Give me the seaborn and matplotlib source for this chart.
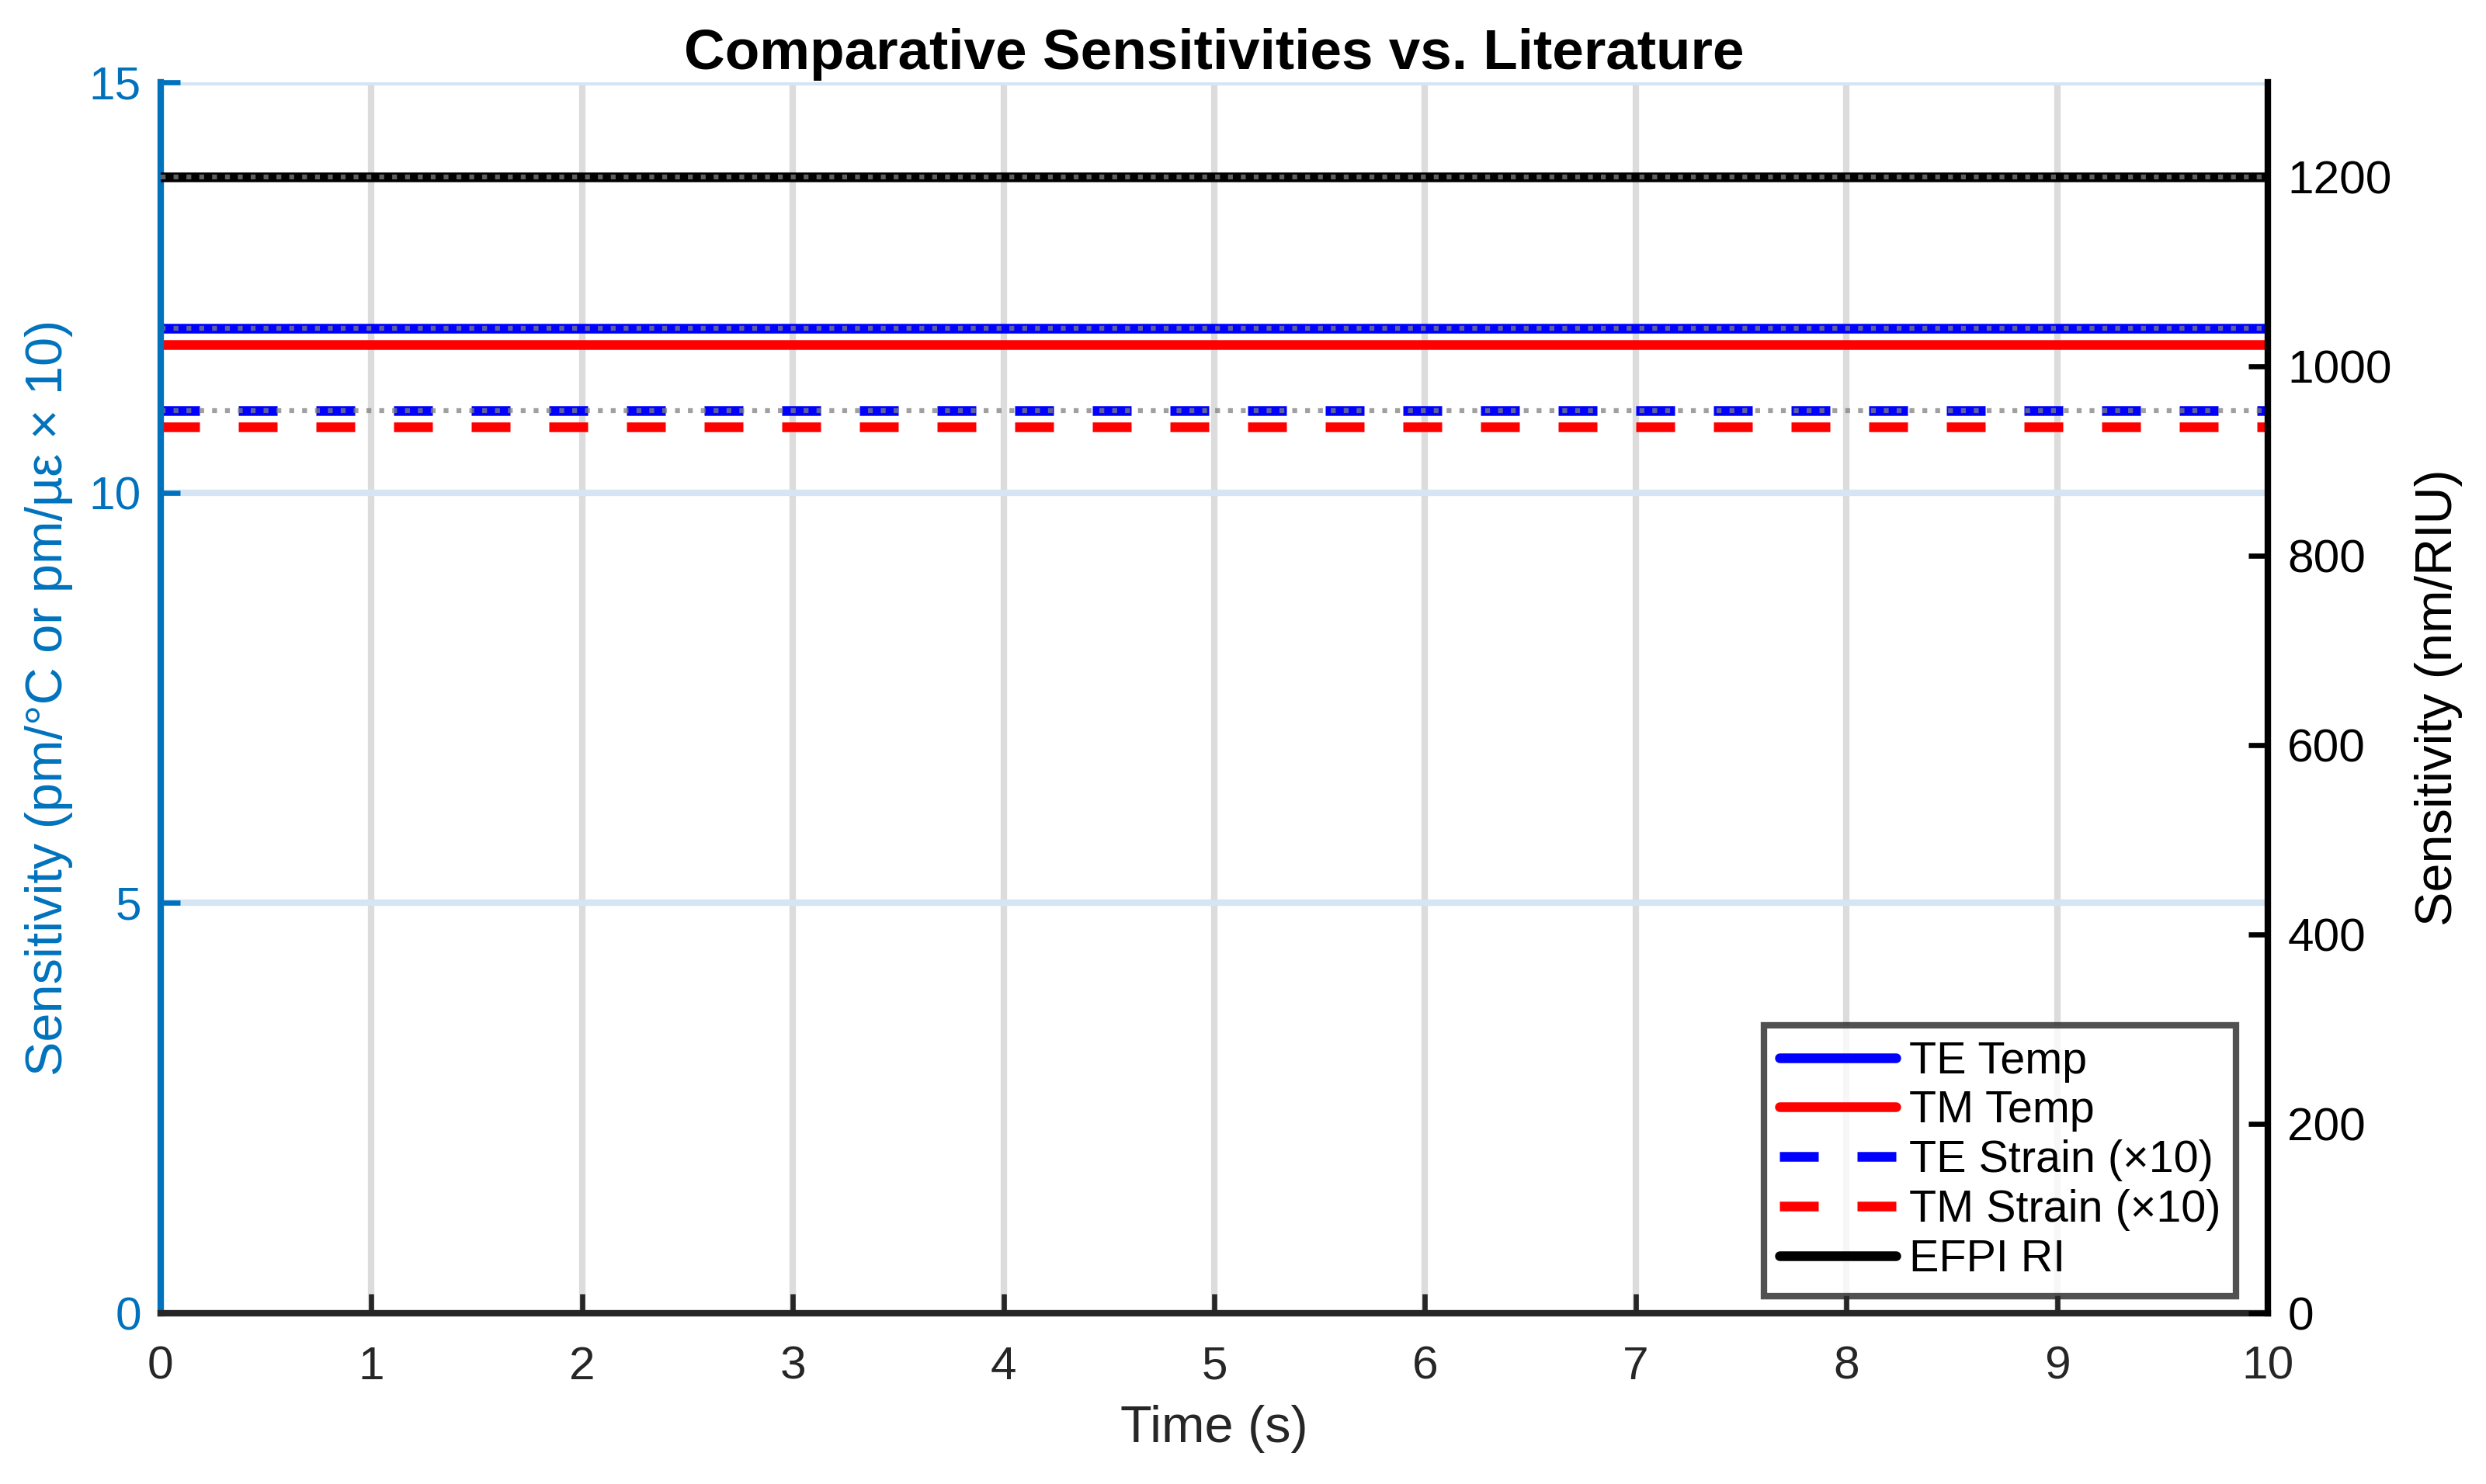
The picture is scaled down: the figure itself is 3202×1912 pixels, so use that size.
import numpy as np
import pandas as pd
import matplotlib.pyplot as plt
import seaborn as sns
from matplotlib.lines import Line2D

sns.set_theme(style='white')
plt.rcParams['font.family'] = ['Liberation Sans', 'DejaVu Sans']

# data
time_s = [0, 10]
te_temp = 12.0          # pm/°C
tm_temp = 11.8          # pm/°C
te_strain_x10 = 11.0    # pm/µε x 10
tm_strain_x10 = 10.8    # pm/µε x 10
efpi_ri = 1200          # nm/RIU
lit_temp = 12.0
lit_strain_x10 = 11.0
lit_ri = 1200

left_ticks = [0, 5, 10, 15]
right_ticks = [0, 200, 400, 600, 800, 1000, 1200]
x_ticks = list(range(0, 11))

blue_axis = '#0072BD'
lw = 3.0

fig = plt.figure(figsize=(3203 / 300, 1912 / 300), dpi=300)
ax = fig.add_axes([0.0646, 0.115, 0.912 - 0.0646, 0.9446 - 0.115])
ax2 = ax.twinx()

def const(v):
    return pd.DataFrame({'t': time_s, 'v': [v] * len(time_s)})

# left axis series
sns.lineplot(data=const(te_temp), x='t', y='v', ax=ax, color='#0000FF', lw=lw)
sns.lineplot(data=const(tm_temp), x='t', y='v', ax=ax, color='#FF0000', lw=lw)
sns.lineplot(data=const(te_strain_x10), x='t', y='v', ax=ax, color='#0000FF', lw=lw,
             dashes=False).lines[-1].set_dashes((4, 4))
sns.lineplot(data=const(tm_strain_x10), x='t', y='v', ax=ax, color='#FF0000', lw=lw,
             dashes=False).lines[-1].set_dashes((4, 4))
# literature references (left)
for v in [lit_temp, lit_strain_x10]:
    sns.lineplot(data=const(v), x='t', y='v', ax=ax, color='0.5', alpha=0.75,
                 lw=1.5, linestyle=':')

# right axis series
sns.lineplot(data=const(efpi_ri), x='t', y='v', ax=ax2, color='black', lw=lw)
sns.lineplot(data=const(lit_ri), x='t', y='v', ax=ax2, color='0.5', alpha=0.75,
             lw=1.5, linestyle=':')

ax.set_xlim(0, 10)
ax.set_ylim(0, 15)
ax2.set_ylim(0, 1300)
ax.set_xticks(x_ticks)
ax.set_yticks(left_ticks)
ax2.set_yticks(right_ticks)

# grid: vertical gray, horizontal light blue
for x in x_ticks[1:-1]:
    ax.axvline(x, color='#DCDCDC', lw=2.0, zorder=0)
for y in left_ticks[1:]:
    ax.axhline(y, color='#D5E5F3', lw=2.0, zorder=0)

for s in ['top']:
    ax.spines[s].set_visible(False)
    ax2.spines[s].set_visible(False)
ax.spines['left'].set_color(blue_axis)
ax.spines['left'].set_linewidth(2.0)
ax.spines['bottom'].set_color('#262626')
ax.spines['bottom'].set_linewidth(2.0)
ax2.spines['right'].set_color('black')
ax2.spines['right'].set_linewidth(2.0)
ax2.spines['left'].set_visible(False)
ax2.spines['bottom'].set_visible(False)

ax.tick_params(axis='y', direction='in', length=6, width=1.6, colors=blue_axis,
               labelsize=14.5, pad=6)
ax.tick_params(axis='x', direction='in', length=6, width=1.6, colors='#262626',
               labelsize=14.5, pad=10, bottom=True)
ax2.tick_params(axis='y', direction='in', length=6, width=1.6, colors='black',
                labelsize=14.5, pad=6, right=True)

ax.set_xlabel('Time (s)', fontsize=16, color='#262626', labelpad=5)
ax.set_ylabel('Sensitivity (pm/°C or pm/µε × 10)', fontsize=16, color=blue_axis,
              labelpad=5)
ax2.set_ylabel('Sensitivity (nm/RIU)', fontsize=16, color='black', labelpad=7)
ax.set_title('Comparative Sensitivities vs. Literature', fontsize=17.5,
             fontweight='bold', color='black', pad=4)

handles = [
    Line2D([], [], color='#0000FF', lw=lw),
    Line2D([], [], color='#FF0000', lw=lw),
    Line2D([], [], color='#0000FF', lw=lw, dashes=(4, 4)),
    Line2D([], [], color='#FF0000', lw=lw, dashes=(4, 4)),
    Line2D([], [], color='black', lw=lw),
]
labels = ['TE Temp', 'TM Temp', 'TE Strain (×10)', 'TM Strain (×10)', 'EFPI RI']
leg = ax2.legend(handles, labels, loc='lower right', bbox_to_anchor=(0.985, 0.014),
                 fontsize=13.8, frameon=True, fancybox=False, handlelength=2.6,
                 handletextpad=0.3, labelspacing=0.17, borderpad=0.35,
                 borderaxespad=0, labelcolor='black')
leg.get_frame().set_edgecolor('#262626')
leg.get_frame().set_linewidth(2.0)
leg.set_zorder(10)

fig.savefig('out.png', dpi=300)
